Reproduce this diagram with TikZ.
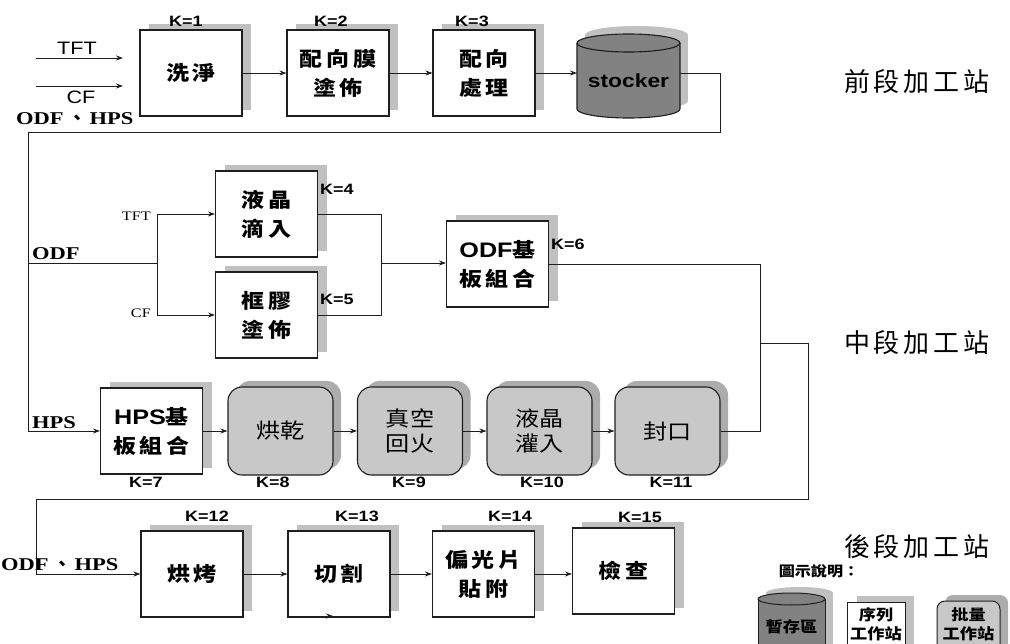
\documentclass[tikz,border=0pt]{standalone}
\usepackage{fontspec}
\setmainfont{Liberation Serif}[FakeStretch=1.25]
\newfontfamily\sansf{Liberation Sans}[FakeStretch=1.2]
\newfontfamily\cjk{Noto Sans CJK TC}[FakeStretch=1.15]
\newfontfamily\cjkn{Noto Sans CJK TC}
\usetikzlibrary{arrows.meta,shadows}
\definecolor{shw}{RGB}{192,192,192}
\definecolor{rfill}{RGB}{200,200,200}
\definecolor{rsh}{RGB}{172,172,172}
\definecolor{stk}{RGB}{130,130,130}
\definecolor{ln}{RGB}{30,30,30}
\newcommand\gp{\hspace{4pt}}
\newcommand\cyl[6]{%
  \fill[#6] (#1-#4,#2) rectangle (#1+#4,#3);
  \fill[#6] (#1,#3) ellipse[x radius=#4, y radius=#5];
  \fill[#6] (#1,#2) ellipse[x radius=#4, y radius=#5];
}
\begin{document}
\begin{tikzpicture}[x=1pt,y=-1pt,
  seqbox/.style={draw=ln, line width=1.1pt, fill=white, minimum width=102pt, minimum height=86pt, inner sep=0pt, align=center, font=\cjk\bfseries\fontsize{20}{29}\selectfont, general shadow={fill=shw, shadow xshift=9pt, shadow yshift=6pt}},
  batchbox/.style={draw=ln, line width=1.1pt, fill=rfill, rounded corners=14pt, minimum width=105pt, minimum height=88pt, inner sep=0pt, align=center, font=\cjk\fontsize{21}{25}\selectfont, general shadow={fill=rsh, shadow xshift=8pt, shadow yshift=6pt}},
  klab/.style={font=\sansf\bfseries\fontsize{15}{15}\selectfont, inner sep=0pt},
  conn/.style={draw=ln, line width=0.9pt},
  arr/.style={conn, -{Stealth[length=7pt,width=5pt]}},
  lab/.style={font=\bfseries\fontsize{18}{18}\selectfont, inner sep=0pt},
  stage/.style={font=\cjkn\fontsize{26}{26}\selectfont, inner sep=0pt},
  legt/.style={font=\cjk\bfseries\fontsize{15}{15}\selectfont, inner sep=0pt},
]
\useasboundingbox (0,0) rectangle (1010,644);
\clip (0,0) rectangle (1010,644);

% ---------- row 1 ----------
\node[seqbox] (b1) at (191,73) {洗\gp{}淨};
\node[seqbox] (b2) at (338,73) {配\gp{}向\gp{}膜\\塗\gp{}佈};
\node[seqbox] (b3) at (484,73) {配\gp{}向\\處\gp{}理};
\node[klab] (k1) at (186,21) {K=1};
\node[klab] (k2) at (331,21) {K=2};
\node[klab] (k3) at (472,21) {K=3};

% stocker
\cyl{636.5}{35}{101}{51.5}{9}{shw}
\cyl{628.5}{43}{109}{51.5}{9}{stk}
\draw[ln, line width=1.1pt] (577,43) -- (577,109) arc[start angle=180,end angle=0,x radius=51.5,y radius=9] -- (680,43);
\draw[ln, line width=1.1pt] (628.5,43) ellipse[x radius=51.5,y radius=9];
\node[font=\sansf\bfseries\fontsize{19}{19}\selectfont, inner sep=0pt] (stk) at (628.5,81) {stocker};
\coordinate (stkW) at (577,73);
\coordinate (stkE) at (680,73);

\coordinate (tftS) at (36,58); \coordinate (tftE) at (123,58);
\coordinate (cfS) at (36,86); \coordinate (cfE) at (123,86);
\draw[arr] (tftS) -- (tftE);
\draw[arr] (cfS) -- (cfE);
\node[font=\sansf\fontsize{18}{18}\selectfont, inner sep=0pt] (ltft) at (77,48) {TFT};
\node[font=\sansf\fontsize{18}{18}\selectfont, inner sep=0pt] (lcf) at (81,97) {CF};
\node[lab, anchor=west] (lodf1) at (16,119) {ODF\hspace{5pt}{\cjkn 、}\hspace{3pt}HPS};

\draw[arr] (b1) -- (b2);
\draw[arr] (b2) -- (b3);
\draw[arr] (b3.east) -- (stkW);

% ---------- row 2 upper ----------
\node[seqbox] (lq) at (266.5,214) {液\gp{}晶\\滴\gp{}入};
\node[seqbox] (kj) at (266.5,315) {框\gp{}膠\\塗\gp{}佈};
\node[seqbox] (odf) at (497.5,264) {{\sansf\bfseries\fontsize{21}{29}\selectfont ODF}基\\板\gp{}組\gp{}合};
\node[klab, anchor=west] (k4) at (320,189) {K=4};
\node[klab, anchor=west] (k5) at (320,299) {K=5};
\node[klab, anchor=west] (k6) at (551,244) {K=6};

\node[font=\fontsize{13}{13}\selectfont, inner sep=0pt, anchor=east] (ltft2) at (151,216) {TFT};
\node[font=\fontsize{13}{13}\selectfont, inner sep=0pt, anchor=east] (lcf2) at (151,313) {CF};
\node[lab, anchor=west] (lodf2) at (32,254) {ODF};
\node[lab, anchor=west] (lhps) at (32,423) {HPS};

% ---------- row 2 lower ----------
\node[seqbox] (hps) at (151.5,431) {{\sansf\bfseries\fontsize{21}{29}\selectfont HPS}基\\板\gp{}組\gp{}合};
\node[batchbox] (hg) at (280.5,431) {烘乾};
\node[batchbox] (zk) at (410,431) {真空\\回火};
\node[batchbox] (yj) at (539.5,431) {液晶\\灌入};
\node[batchbox] (fk) at (667.5,431) {封口};
\node[klab] (k7) at (146,482) {K=7};
\node[klab] (k8) at (273,482) {K=8};
\node[klab] (k9) at (409,482) {K=9};
\node[klab] (k10) at (542,482) {K=10};
\node[klab] (k11) at (671,482) {K=11};

\draw[arr] (hps) -- (hg);
\draw[arr] (hg) -- (zk);
\draw[arr] (zk) -- (yj);
\draw[arr] (yj) -- (fk);

% main feed line
\coordinate (c1) at (720,132);
\coordinate (c2) at (28,132);
\draw[arr] (stkE) -| (c1) -- (c2) |- (hps.west);
\coordinate (odfj) at (28,263);
\coordinate (br) at (157,263);
\draw[conn] (odfj) -- (br);
\draw[arr] (br) |- (lq.west);
\draw[arr] (br) |- (kj.west);
\coordinate (mj) at (381,263);
\draw[conn] (lq.east) -| (mj);
\draw[conn] (kj.east) -| (mj);
\draw[arr] (mj) -- (mj -| odf.west);

\coordinate (m2) at (760,343);
\coordinate (c3) at (808,499);
\coordinate (c4) at (36,499);
\draw[conn] (odf.east) -| (m2);
\draw[conn] (fk.east) -| (m2);

% ---------- row 3 ----------
\node[seqbox] (bk) at (192,574) {烘\gp{}烤};
\node[seqbox] (qg) at (339,574) {切\gp{}割};
\node[seqbox] (pg) at (483.5,574) {偏\gp{}光\gp{}片\\貼\gp{}附};
\node[seqbox] (jc) at (623.5,571) {檢\gp{}查};
\node[klab] (k12) at (207,516) {K=12};
\node[klab] (k13) at (357,516) {K=13};
\node[klab] (k14) at (510,516) {K=14};
\node[klab] (k15) at (640,517) {K=15};
\node[lab, anchor=west] (lodf3) at (1,565) {ODF\hspace{5pt}{\cjkn 、}\hspace{3pt}HPS};

\draw[arr] (m2) -| (c3) -- (c4) |- (bk.west);
\draw[arr] (bk) -- (qg);
\draw[arr] (qg) -- (pg);
\draw[arr] (pg.east) -- (pg.east -| jc.west);
\coordinate (sa1) at (318,616);
\coordinate (sa2) at (333,616);
\draw[arr] (sa1) -- (sa2);

% ---------- stage labels ----------
\node[stage] (s1) at (917,82) {前\gp{}段\gp{}加\gp{}工\gp{}站};
\node[stage] (s2) at (917,343) {中\gp{}段\gp{}加\gp{}工\gp{}站};
\node[stage] (s3) at (917,547) {後\gp{}段\gp{}加\gp{}工\gp{}站};

% ---------- legend ----------
\node[font=\cjk\bfseries\fontsize{14}{14}\selectfont, inner sep=0pt] (lg) at (819,571) {圖示說明：};
\cyl{799.5}{593}{680}{33.5}{6}{shw}
\cyl{791.5}{599}{680}{33.5}{6}{stk}
\draw[ln, line width=1pt] (758,599) -- (758,660) (825,599) -- (825,660);
\draw[ln, line width=1pt] (791.5,599) ellipse[x radius=33.5,y radius=6];
\node[legt] (lg1) at (791.5,627) {暫存區};
\fill[shw] (857,596) rectangle (914,660);
\draw[ln, line width=1pt, fill=white] (847,602) rectangle (905,660);
\node[legt] (lg2a) at (876,615) {序列};
\node[legt] (lg2b) at (876,634) {工作站};
\fill[rsh, rounded corners=8pt] (945,595) rectangle (1008,660);
\draw[ln, line width=1pt, fill=rfill, rounded corners=8pt] (937,601) rectangle (1000,660);
\node[legt] (lg3a) at (968.5,615) {批量};
\node[legt] (lg3b) at (968.5,634) {工作站};
\end{tikzpicture}
\end{document}
